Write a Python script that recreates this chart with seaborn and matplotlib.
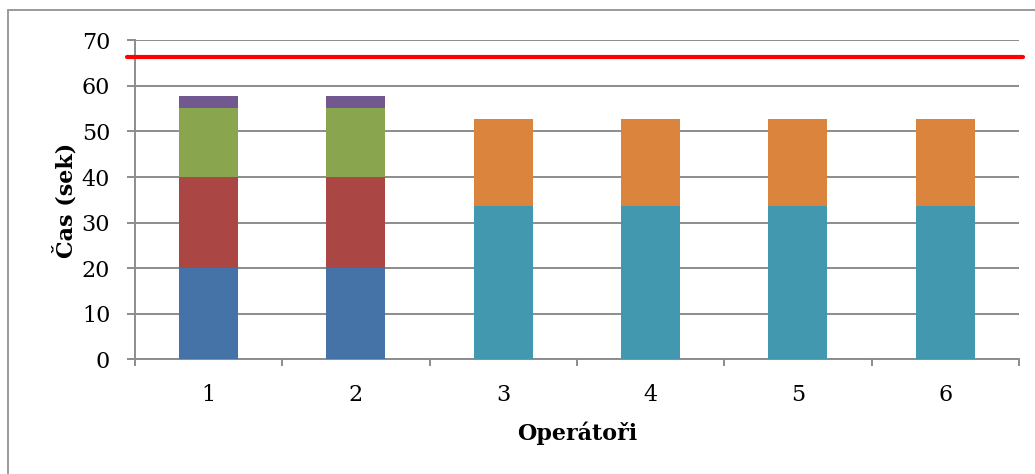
import matplotlib
matplotlib.use("Agg")
import matplotlib.pyplot as plt
from matplotlib.lines import Line2D
import numpy as np
import seaborn as sns

# Operators on the line and their work content (seconds), stacked by task
operators = ["1", "2", "3", "4", "5", "6"]
task_a = [20.0, 20.0, 0, 0, 0, 0]
task_b = [20.0, 20.0, 0, 0, 0, 0]
task_c = [15.2, 15.2, 0, 0, 0, 0]
task_d = [2.65, 2.65, 0, 0, 0, 0]
task_e = [0, 0, 33.7, 33.7, 33.7, 33.7]
task_f = [0, 0, 19.0, 19.0, 19.0, 19.0]
takt_time = 66.3

series = [task_a, task_b, task_c, task_d, task_e, task_f]
colors = ["#4572A7", "#AA4643", "#89A54E", "#71588F", "#4198AF", "#DB843D"]

y_ticks = [0, 10, 20, 30, 40, 50, 60, 70]

sns.set_theme(style="white")
plt.rcParams["font.family"] = ["DejaVu Serif"]
plt.rcParams["text.color"] = "black"
plt.rcParams["axes.labelcolor"] = "black"

fig = plt.figure(figsize=(10.35, 4.74), dpi=100)
ax = fig.add_axes([0.1304, 0.2416, 0.8541, 0.6734])

bottom = np.zeros(len(operators))
for vals, col in zip(series, colors):
    vals = np.asarray(vals, dtype=float)
    sns.barplot(x=operators, y=vals, bottom=bottom, color=col, width=0.4,
                saturation=1, linewidth=0, ax=ax, zorder=3)
    bottom = bottom + vals

# Takt time line
ax.axhline(takt_time, xmin=-0.009, xmax=1.005, color="#FF0000", lw=3,
           zorder=4, clip_on=False)

ax.set_xlim(-0.5, len(operators) - 0.5)
ax.set_ylim(0, 70)
ax.set_yticks(y_ticks)

grid_col = "#8C8C8C"
ax.yaxis.grid(True, color=grid_col, lw=1.4)
ax.xaxis.grid(False)
ax.set_axisbelow(True)

for s in ["top", "right"]:
    ax.spines[s].set_visible(False)
for s in ["left", "bottom"]:
    ax.spines[s].set_color(grid_col)
    ax.spines[s].set_linewidth(1.4)

# Category boundaries get the tick marks; labels sit at the centres
ax.set_xticks(np.arange(-0.5, len(operators)), minor=True)
ax.tick_params(axis="x", which="major", length=0, labelsize=16, pad=18,
               labelcolor="black")
ax.tick_params(axis="x", which="minor", length=5, width=1.4, color=grid_col,
               direction="out", bottom=True)
ax.tick_params(axis="y", which="major", length=5.8, width=1.4, color=grid_col,
               direction="out", left=True, labelsize=16, pad=12,
               labelcolor="black")

ax.set_xlabel("Operátoři", fontsize=16, fontweight="bold", labelpad=11,
              color="black")
ax.set_ylabel("Čas (sek)", fontsize=16, fontweight="bold", labelpad=3,
              color="black")

# Chart frame
fw, fh = 1035, 474
fig.add_artist(Line2D([8 / fw, 1.0], [1 - 10 / fh, 1 - 10 / fh],
                      color="#9A9A9A", lw=1.4, transform=fig.transFigure))
fig.add_artist(Line2D([8 / fw, 8 / fw], [0, 1 - 10 / fh],
                      color="#9A9A9A", lw=1.4, transform=fig.transFigure))

fig.savefig("out.png", dpi=100, facecolor="white")
